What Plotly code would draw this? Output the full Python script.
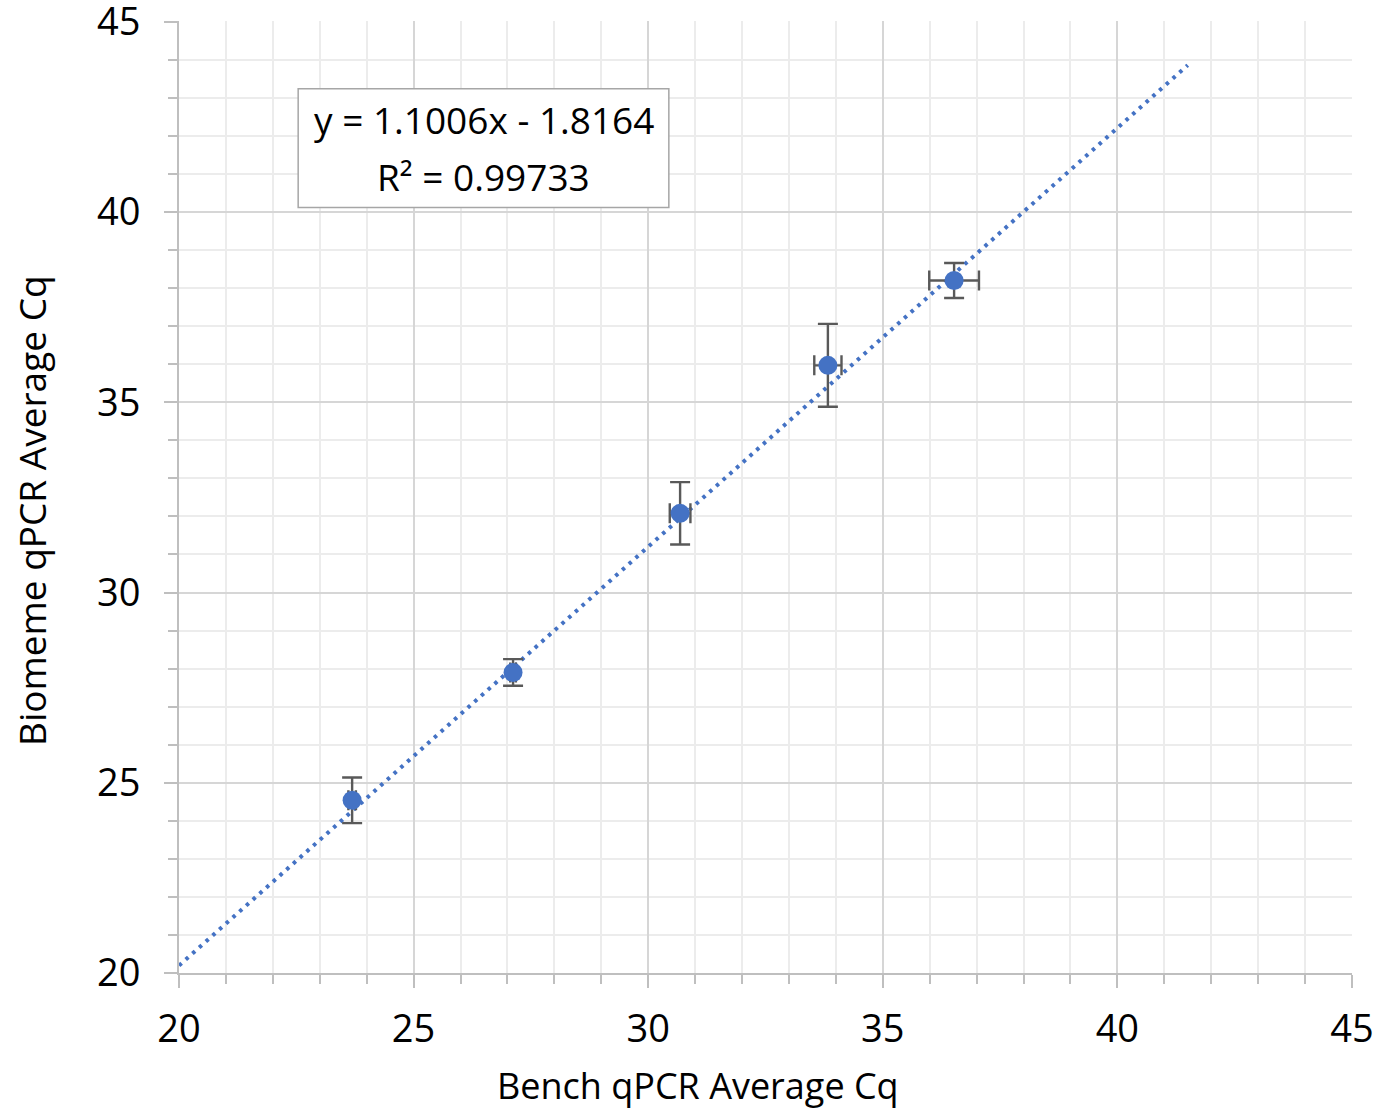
import plotly.graph_objects as go

# Average Cq for each dilution: bench instrument (x) vs Biomeme (y)
bench_cq = [23.69, 27.12, 30.68, 33.83, 36.52]
biomeme_cq = [24.54, 27.90, 32.08, 35.97, 38.20]
bench_err = [0.08, 0.06, 0.22, 0.29, 0.53]
biomeme_err = [0.60, 0.35, 0.82, 1.09, 0.46]

# Linear fit reported on the chart
slope = 1.1006
intercept = -1.8164
r_squared = 0.99733
trend_x = [20.0, 41.5]

x_ticks = [20, 25, 30, 35, 40, 45]
y_ticks = [20, 25, 30, 35, 40, 45]

FONT = "Open Sans"
BLUE = "#4472C4"
ERR = "#595959"
AXIS = "#bfbfbf"
MAJOR_GRID = "#d6d6d6"
MINOR_GRID = "#ececec"

fig = go.Figure()

fig.add_trace(go.Scatter(
    x=trend_x,
    y=[slope * v + intercept for v in trend_x],
    mode="lines",
    line=dict(color=BLUE, width=4, dash="3.5px,5.5px"),
    hoverinfo="skip",
    showlegend=False,
))

fig.add_trace(go.Scatter(
    x=bench_cq,
    y=biomeme_cq,
    mode="markers",
    marker=dict(color=BLUE, size=19),
    error_x=dict(type="data", array=bench_err, color=ERR, thickness=2.4, width=10),
    error_y=dict(type="data", array=biomeme_err, color=ERR, thickness=2.4, width=10),
    showlegend=False,
))

axis_common = dict(
    showline=True,
    linecolor=AXIS,
    linewidth=2,
    ticks="outside",
    ticklen=13,
    tickwidth=2,
    tickcolor=AXIS,
    showgrid=True,
    gridcolor=MAJOR_GRID,
    gridwidth=2,
    zeroline=False,
    automargin=False,
    ticklabeloverflow="allow",
    tickfont=dict(family=FONT, size=38, color="#000000"),
    minor=dict(
        dtick=1,
        ticks="outside",
        ticklen=9,
        tickwidth=2,
        tickcolor=AXIS,
        showgrid=True,
        gridcolor=MINOR_GRID,
        gridwidth=2,
    ),
)

fig.update_xaxes(**axis_common, range=[20, 45.0005], tickvals=x_ticks,
                 ticktext=[str(v) for v in x_ticks], ticklabelstandoff=8)
fig.update_yaxes(**axis_common, range=[20, 45.02], tickvals=y_ticks,
                 ticktext=[str(v) for v in y_ticks], ticklabelstandoff=16)

# Trendline equation box
fig.add_shape(type="rect", xref="x", yref="y",
              x0=22.54, x1=30.44, y0=40.12, y1=43.24,
              line=dict(color="#a6a6a6", width=1.5), fillcolor="white", layer="above")
fig.add_annotation(x=26.49, y=42.44, xref="x", yref="y",
                   text=f"y = {slope:.4f}x - {abs(intercept):.4f}", showarrow=False,
                   font=dict(family=FONT, size=37, color="#000000"))
fig.add_annotation(x=26.49, y=40.93, xref="x", yref="y",
                   text=f"R² = {r_squared:.5f}", showarrow=False,
                   font=dict(family=FONT, size=37, color="#000000"))

# Axis titles
fig.add_annotation(x=698, y=1085, text="Bench qPCR Average Cq",
                   showarrow=False, font=dict(family=FONT, size=36, color="#000000"))
fig.add_annotation(x=32, y=511, text="Biomeme qPCR Average Cq", textangle=-90,
                   showarrow=False, font=dict(family=FONT, size=37, color="#000000"))

W, H = 1379, 1111
L, R, T, B = 179, 27, 21, 138
pw, ph = W - L - R, H - T - B
# convert pixel positions of the titles into paper coordinates
for ann in fig.layout.annotations[2:]:
    ann.xref = "paper"
    ann.yref = "paper"
    ann.x = (ann.x - L) / pw
    ann.y = 1 - (ann.y - T) / ph
    ann.xanchor = "center"
    ann.yanchor = "middle"

fig.update_layout(
    width=W, height=H,
    margin=dict(l=L, r=R, t=T, b=B),
    paper_bgcolor="white",
    plot_bgcolor="white",
    font=dict(family=FONT),
)

fig.write_html("out.html")
